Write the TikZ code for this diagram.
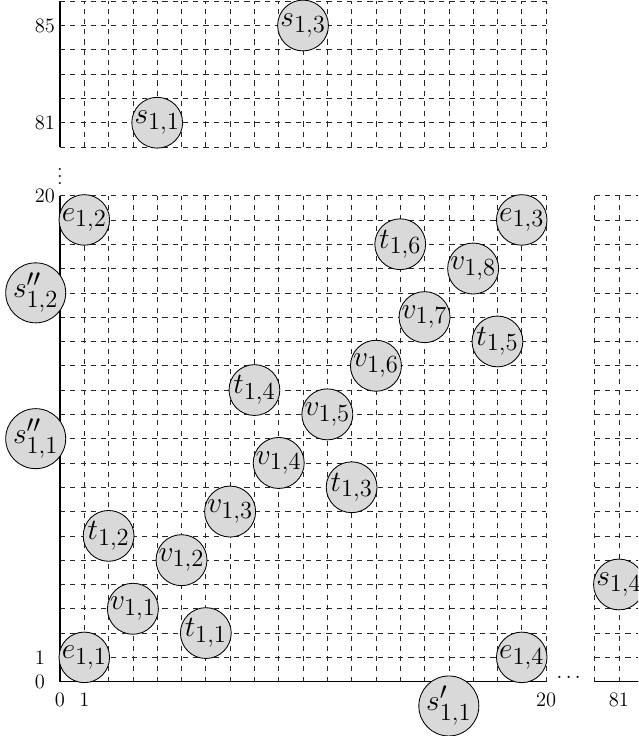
\documentclass[tikz,border=0pt]{standalone}
\usepackage{amsmath,amssymb}
\usepackage{tikz}
\definecolor{nodegray}{RGB}{217,217,217}

\begin{document}
\begin{tikzpicture}[
  x=0.5cm, y=0.5cm,
  vtx/.style={
    circle, draw=black, fill=nodegray,
    line width=0.5pt, inner sep=0pt,
    minimum size=0.965cm, font=\fontsize{19}{22}\selectfont
  },
  gridline/.style={dashed, black!85, line width=0.4pt, step=0.5cm},
  axisline/.style={line width=0.9pt},
  ylabel/.style={anchor=west, inner sep=0pt, font=\large},
  xlabel/.style={inner sep=0pt, font=\large}
]
  \useasboundingbox (-2.469,-2.235) rectangle (23.786,28.05);
  \clip (-2.469,-2.235) rectangle (23.786,28.05);

  % Grids
  \draw[gridline] (0,0) grid (20,20);
  \draw[gridline] (0,22) grid (20,28);
  \draw[gridline] (22,0) grid (24,20);

  % Axes
  \draw[axisline] (0,20) -- (0,0) -- (20,0);
  \draw[axisline] (0,22) -- (0,28);
  \draw[axisline] (22,0) -- (24,0);

  % Axis labels
  \node[xlabel] (x0)  at (0,-0.75)  {0};
  \node[xlabel] (x1)  at (1,-0.75)  {1};
  \node[xlabel] (x20) at (20,-0.75) {20};
  \node[xlabel] (x81) at (23,-0.75) {81};
  \node[ylabel] (y0)  at (-1.05,0)  {0};
  \node[ylabel] (y1)  at (-1.05,1)  {1};
  \node[ylabel] (y20) at (-1.05,20) {20};
  \node[ylabel] (y81) at (-1.05,23) {81};
  \node[ylabel] (y85) at (-1.05,27) {85};
  \node[anchor=base, font=\large] (hdots) at (21,-0.05) {$\cdots$};
  \node[font=\large] (vdots) at (0,21) {$\vdots$};

  % Corner nodes
  \node[vtx] (e11) at (1,1)   {$e_{1,1}$};
  \node[vtx] (e12) at (1,19)  {$e_{1,2}$};
  \node[vtx] (e13) at (19,19) {$e_{1,3}$};
  \node[vtx] (e14) at (19,1)  {$e_{1,4}$};

  % Diagonal
  \node[vtx] (v11) at (3,3)   {$v_{1,1}$};
  \node[vtx] (v12) at (5,5)   {$v_{1,2}$};
  \node[vtx] (v13) at (7,7)   {$v_{1,3}$};
  \node[vtx] (v14) at (9,9)   {$v_{1,4}$};
  \node[vtx] (v15) at (11,11) {$v_{1,5}$};
  \node[vtx] (v16) at (13,13) {$v_{1,6}$};
  \node[vtx] (v17) at (15,15) {$v_{1,7}$};
  \node[vtx] (v18) at (17,17) {$v_{1,8}$};

  % Off-diagonal
  \node[vtx] (t11) at (6,2)   {$t_{1,1}$};
  \node[vtx] (t12) at (2,6)   {$t_{1,2}$};
  \node[vtx] (t13) at (12,8)  {$t_{1,3}$};
  \node[vtx] (t14) at (8,12)  {$t_{1,4}$};
  \node[vtx] (t15) at (18,14) {$t_{1,5}$};
  \node[vtx] (t16) at (14,18) {$t_{1,6}$};

  % Outside the main square
  \node[vtx] (sa11) at (-1,10) {$s''_{1,1}$};
  \node[vtx] (sa12) at (-1,16) {$s''_{1,2}$};
  \node[vtx] (sb11) at (16,-1) {$s'_{1,1}$};
  \node[vtx] (s11)  at (4,23)  {$s_{1,1}$};
  \node[vtx] (s13)  at (10,27) {$s_{1,3}$};
  \node[vtx] (s14)  at (23,4)  {$s_{1,4}$};
\end{tikzpicture}
\end{document}
